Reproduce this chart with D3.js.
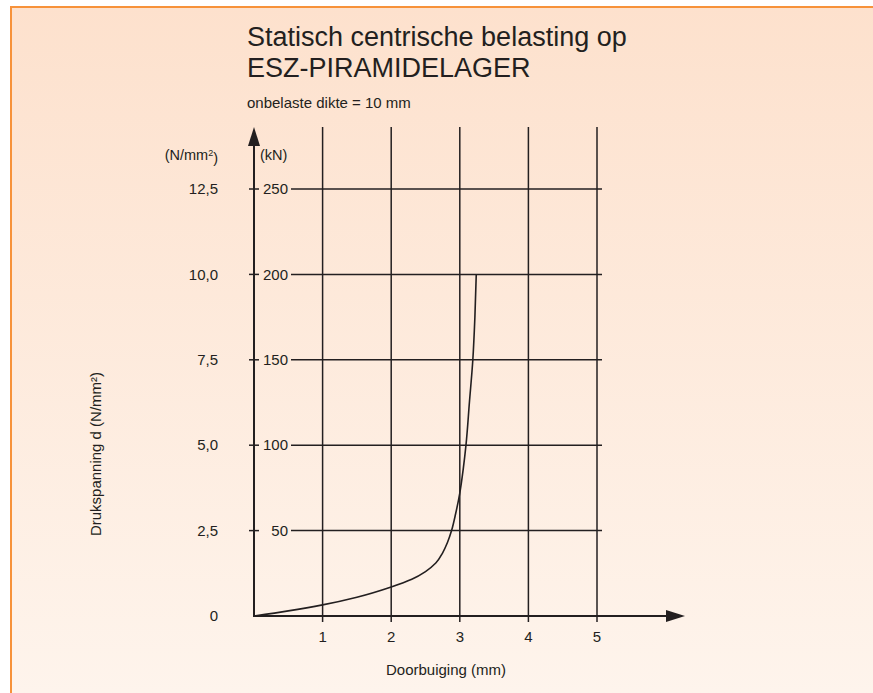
<html>
  <head>
    <meta charset="utf-8">
    <script src="https://d3js.org/d3.v7.min.js"></script>
    <style>
      body { margin: 0; background: #fff; }
      text { font-family: "Liberation Sans", Arial, sans-serif; fill: #231f20; }
    </style>
  </head>
  <body>
    <svg width="873" height="693" class="chart"></svg>

    <script>
      // tick values
      var xTicks = [1, 2, 3, 4, 5];
      var kNTicks = [50, 100, 150, 200, 250];
      var stressLabels = ["0", "2,5", "5,0", "7,5", "10,0", "12,5"];

      // curve: deflection (mm), load (kN)
      var deflection = [0, 0.5, 1, 1.5, 2, 2.3, 2.5, 2.65, 2.75, 2.82, 2.88, 2.94, 3.0, 3.05, 3.09, 3.14, 3.19, 3.22, 3.24];
      var load       = [0, 3, 6.5, 11, 17, 21.5, 26, 31, 37, 43, 50, 60, 72, 86, 100, 125, 150, 175, 200];

      var svg = d3.select(".chart");

      // panel with peach gradient
      var grad = svg.append("defs").append("linearGradient")
        .attr("id", "bg").attr("x1", 0).attr("y1", 0).attr("x2", 0).attr("y2", 1);
      grad.append("stop").attr("offset", "0%").attr("stop-color", "#fde1cd");
      grad.append("stop").attr("offset", "100%").attr("stop-color", "#fef4ec");

      svg.append("rect").attr("x", 10).attr("y", 6).attr("width", 863).attr("height", 687)
        .attr("fill", "url(#bg)");
      svg.append("line").attr("x1", 10).attr("x2", 873).attr("y1", 7).attr("y2", 7)
        .attr("stroke", "#f7923a").attr("stroke-width", 2);
      svg.append("line").attr("x1", 11).attr("x2", 11).attr("y1", 6).attr("y2", 693)
        .attr("stroke", "#f7923a").attr("stroke-width", 2);

      // scales
      var x = d3.scaleLinear().domain([0, 5]).range([254, 597]);
      var y = d3.scaleLinear().domain([0, 250]).range([616, 189]);

      var ink = "#231f20";
      var g = svg.append("g");

      // vertical grid lines
      g.selectAll(".vgrid").data(xTicks).enter().append("line")
        .attr("x1", function(d) { return x(d); }).attr("x2", function(d) { return x(d); })
        .attr("y1", 127).attr("y2", 622)
        .attr("stroke", ink).attr("stroke-width", 1.5);

      // horizontal grid lines
      g.selectAll(".hgrid").data(kNTicks).enter().append("line")
        .attr("x1", 291).attr("x2", 602)
        .attr("y1", function(d) { return y(d); }).attr("y2", function(d) { return y(d); })
        .attr("stroke", ink).attr("stroke-width", 1.5);

      // small ticks crossing the y axis
      g.selectAll(".ytick").data(kNTicks).enter().append("line")
        .attr("x1", 249).attr("x2", 259)
        .attr("y1", function(d) { return y(d); }).attr("y2", function(d) { return y(d); })
        .attr("stroke", ink).attr("stroke-width", 1.5);

      // axes with arrows
      g.append("line").attr("x1", x(0)).attr("x2", x(0)).attr("y1", 140).attr("y2", y(0) + 1)
        .attr("stroke", ink).attr("stroke-width", 2);
      g.append("path").attr("d", "M254,127 L248,146 L260,146 Z").attr("fill", ink);
      g.append("line").attr("x1", x(0) - 1).attr("x2", 672).attr("y1", y(0)).attr("y2", y(0))
        .attr("stroke", ink).attr("stroke-width", 2);
      g.append("path").attr("d", "M685,616 L666,610 L666,622 Z").attr("fill", ink);

      // curve
      var pts = deflection.map(function(d, i) { return [d, load[i]]; });
      var line = d3.line()
        .x(function(d) { return x(d[0]); })
        .y(function(d) { return y(d[1]); })
        .curve(d3.curveMonotoneY);
      g.append("path").datum(pts).attr("d", line)
        .attr("fill", "none").attr("stroke", ink).attr("stroke-width", 1.6);

      // kN labels
      g.selectAll(".kn").data(kNTicks).enter().append("text")
        .attr("x", 288).attr("y", function(d) { return y(d); }).attr("dy", "0.35em")
        .attr("text-anchor", "end").style("font-size", "15px")
        .text(function(d) { return d; });

      // stress labels (N/mm²)
      g.selectAll(".st").data(stressLabels).enter().append("text")
        .attr("x", 218).attr("y", function(d, i) { return y(i * 50); }).attr("dy", "0.35em")
        .attr("text-anchor", "end").style("font-size", "15px")
        .text(function(d) { return d; });

      // x labels
      g.selectAll(".xl").data(xTicks).enter().append("text")
        .attr("x", function(d) { return x(d); }).attr("y", 637).attr("dy", "0.35em")
        .attr("text-anchor", "middle").style("font-size", "15px")
        .text(function(d) { return d; });

      // unit headers
      var hdr = g.append("text").attr("x", 218).attr("y", 155).attr("dy", "0.35em")
        .attr("text-anchor", "end").style("font-size", "14.5px");
      hdr.append("tspan").text("(N/mm");
      hdr.append("tspan").attr("dy", "-0.45em").style("font-size", "9px").text("2");
      hdr.append("tspan").attr("dy", "0.45em").text(")");
      g.append("text").attr("x", 260).attr("y", 155).attr("dy", "0.35em")
        .style("font-size", "14.5px").text("(kN)");

      // axis titles
      g.append("text").attr("x", 446).attr("y", 670).attr("dy", "0.35em")
        .attr("text-anchor", "middle").style("font-size", "15px").text("Doorbuiging (mm)");
      g.append("text").attr("transform", "translate(96,454) rotate(-90)").attr("dy", "0.35em")
        .attr("text-anchor", "middle").style("font-size", "15px").text("Drukspanning d (N/mm²)");

      // title
      g.append("text").attr("x", 247).attr("y", 46)
        .style("font-size", "27px").text("Statisch centrische belasting op");
      g.append("text").attr("x", 247).attr("y", 77)
        .style("font-size", "27px").text("ESZ-PIRAMIDELAGER");
      g.append("text").attr("x", 247).attr("y", 108)
        .style("font-size", "15px").text("onbelaste dikte = 10 mm");
    </script>
  </body>
</html>
